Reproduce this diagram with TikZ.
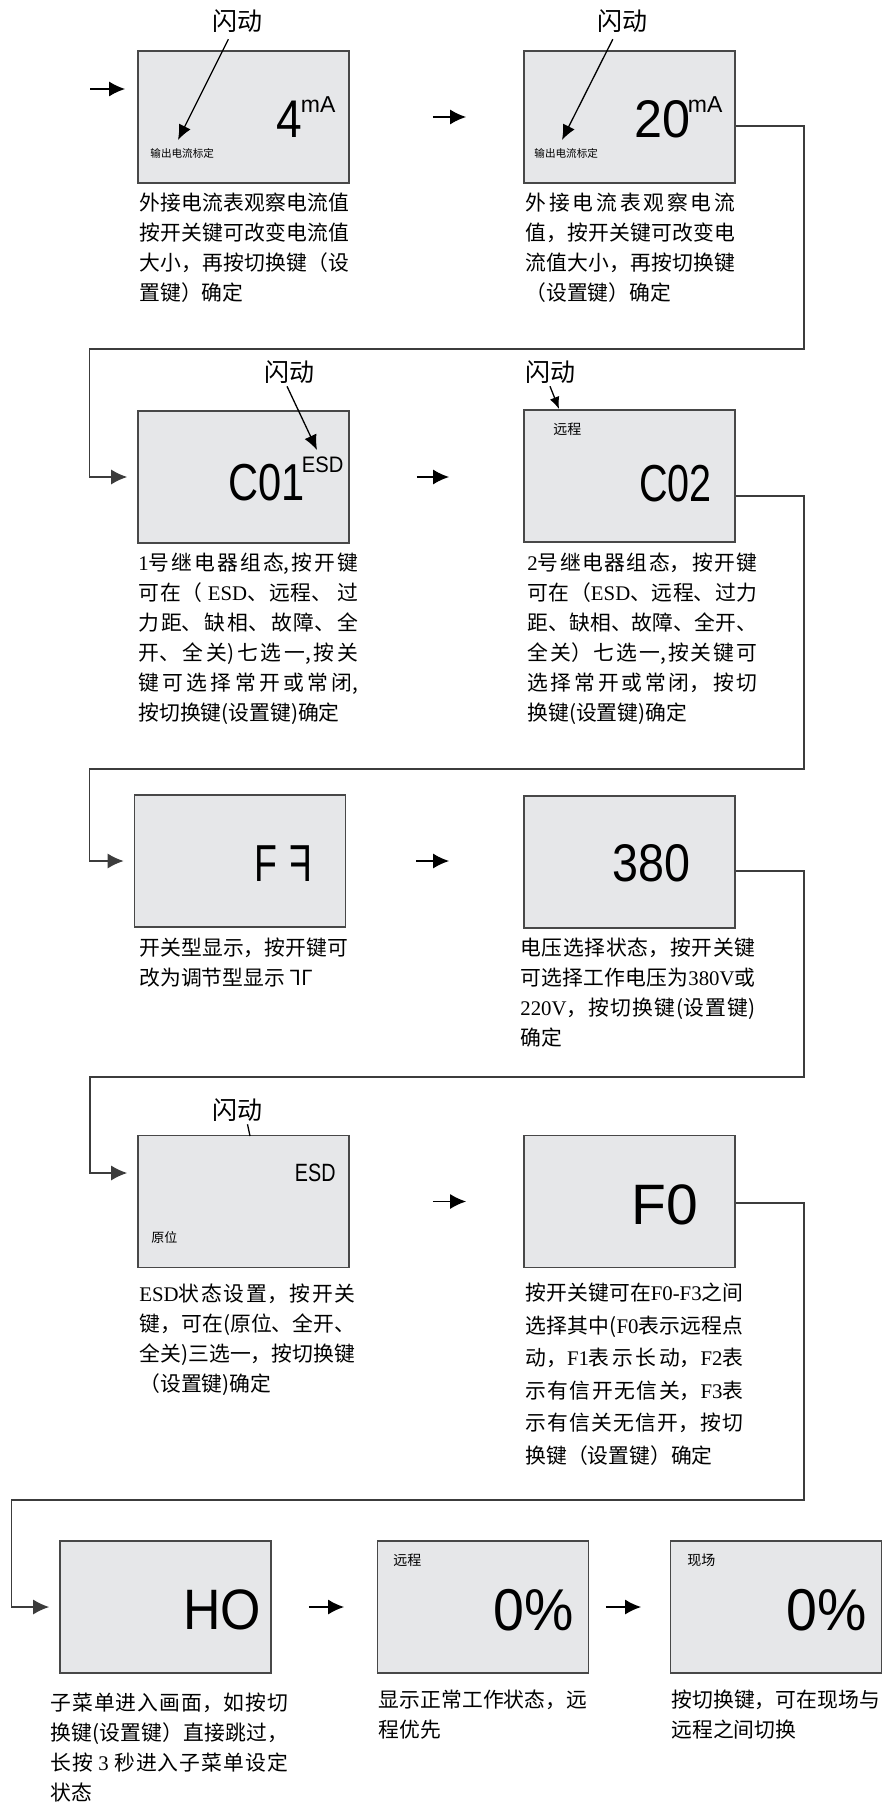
\documentclass[tikz,border=0pt]{standalone}
\usepackage{graphicx}
\usepackage{fontspec}
\setmainfont{Noto Sans CJK SC}
\newfontfamily\lcdfont{Liberation Sans}
\newfontfamily\enfont{Liberation Serif}
\usetikzlibrary{arrows.meta,calc,positioning}
\XeTeXlinebreaklocale "zh"
\XeTeXlinebreakskip=0pt plus 2pt
\definecolor{screengray}{RGB}{230,231,233}
\definecolor{framegray}{RGB}{72,72,72}
\definecolor{wiregray}{RGB}{60,60,60}
\newcommand{\en}[1]{{\enfont #1}}
\newcommand{\lcd}[3]{{\lcdfont\fontsize{#1}{#1}\selectfont\scalebox{#2}[1]{#3}}}

\begin{document}
\begin{tikzpicture}[
  x=0.5pt,y=-0.5pt,
  screen/.style={draw=framegray,line width=0.85pt,fill=screengray,minimum width=105.5pt,minimum height=66pt,inner sep=0pt},
  desc/.style={anchor=north west,inner sep=0pt,align=justify,font=\fontsize{10.4}{15}\selectfont},
  flash/.style={font=\fontsize{12.5}{12.5}\selectfont,inner sep=1pt},
  tag/.style={anchor=west,inner sep=0pt},
  digits/.style={anchor=base west,inner sep=0pt},
  flow/.style={-{Latex[length=8pt,width=7.5pt]},line width=0.85pt},
  link/.style={-{Latex[length=8pt,width=7.5pt]},line width=0.65pt,draw=wiregray,shorten >=5pt},
  blink/.style={-{Latex[length=7.5pt,width=6.5pt]},line width=0.65pt}
]
  \useasboundingbox (0,0) rectangle (882,1802);

  % display screens
  \node[screen] (b1) at (243.5,117) {};
  \node[screen] (b2) at (629.5,117) {};
  \node[screen] (b3) at (243.5,477) {};
  \node[screen] (b4) at (629.5,476) {};
  \node[screen] (b5) at (240,861) {};
  \node[screen] (b6) at (629.5,862) {};
  \node[screen] (b7) at (243.5,1201.5) {};
  \node[screen] (b8) at (629.5,1201.5) {};
  \node[screen] (b9) at (165.5,1607) {};
  \node[screen] (b10) at (483,1607) {};
  \node[screen] (b11) at (776,1607) {};

  % screen contents
  \node[digits] (v1) at (276,138) {\lcd{26.5}{0.87}{4}};
  \node[digits] (u1) at (300.5,113) {\lcd{11.5}{1}{mA}};
  \node[tag,font=\fontsize{5.3}{6}\selectfont] (s1) at (150,153) {输出电流标定};
  \node[digits] (v2) at (634.5,138) {\lcd{26.5}{0.95}{20}};
  \node[digits] (u2) at (687.5,113) {\lcd{11.5}{1}{mA}};
  \node[tag,font=\fontsize{5.3}{6}\selectfont] (s2) at (534,153) {输出电流标定};
  \node[digits] (v3) at (228,500) {\lcd{26}{0.8}{C01}};
  \node[digits] (u3) at (301.5,473) {\lcd{11.2}{0.9}{ESD}};
  \node[tag,font=\fontsize{7}{8}\selectfont] (s4) at (553,429) {远程};
  \node[digits] (v4) at (639,502) {\lcd{26}{0.76}{C02}};
  \node[digits] (v5) at (254,881) {\lcd{26}{0.72}{F\hspace{8.8pt}\reflectbox{F}}};
  \node[digits] (v6) at (612,881) {\lcd{26.5}{0.88}{380}};
  \node[digits] (v7) at (294.5,1181) {\lcd{12.5}{0.79}{ESD}};
  \node[tag,font=\fontsize{6.5}{7}\selectfont] (s7) at (151,1237) {原位};
  \node[digits] (v8) at (631.5,1224) {\lcd{28.5}{1}{F0}};
  \node[digits] (v9) at (183,1629) {\lcd{28.5}{0.91}{HO}};
  \node[tag,font=\fontsize{7}{8}\selectfont] (s10) at (393,1560) {远程};
  \node[digits] (v10) at (493,1630) {\lcd{29.5}{0.94}{0\%}};
  \node[tag,font=\fontsize{7}{8}\selectfont] (s11) at (687,1560) {现场};
  \node[digits] (v11) at (786,1630) {\lcd{29.5}{0.94}{0\%}};

  % blinking marks
  \node[flash] (f1) at (237.5,21) {闪动};
  \node[flash] (f2) at (622,21) {闪动};
  \node[flash] (f3) at (289,372.5) {闪动};
  \node[flash] (f4) at (550,372.5) {闪动};
  \node[flash] (f7) at (237.5,1110.5) {闪动};
  \coordinate (p1) at (178,140);
  \coordinate (p2) at (562,140);
  \coordinate (p3) at (317,450);
  \coordinate (p4) at (559,409);
  \coordinate (p7) at (250,1136);
  \draw[blink,shorten <=2.5pt] (f1) -- (p1);
  \draw[blink,shorten <=2.5pt] (f2) -- (p2);
  \draw[blink] ([xshift=-1pt]f3.south) -- (p3);
  \draw[blink,-{Latex[length=6pt,width=5pt]}] (f4.south) -- (p4);
  \draw[line width=0.65pt] ([xshift=5pt]f7.south) -- (p7);

  % descriptions
  \node[desc,text width=105pt] (d1) at (139,193) {外接电流表观察电流值\linebreak 按开关键可改变电流值\linebreak 大小，再按切换键（设\linebreak 置键）确定};
  \node[desc,text width=105pt] (d2) at (525,193) {外接电流表观察电流\linebreak 值，按开关键可改变电\linebreak 流值大小，再按切换键\linebreak （设置键）确定};
  \node[desc,text width=110pt] (d3) at (138,553) {\en{1}号继电器组态,按开键\linebreak 可在（ \en{ESD}、远程、 过\linebreak 力距、缺相、故障、全\linebreak 开、全关)七选一,按关\linebreak 键可选择常开或常闭,\linebreak 按切换键(设置键)确定};
  \node[desc,text width=115pt] (d4) at (527,553) {\en{2}号继电器组态，按开键\linebreak 可在（\en{ESD}、远程、过力\linebreak 距、缺相、故障、全开、\linebreak 全关）七选一,按关键可\linebreak 选择常开或常闭，按切\linebreak 换键(设置键)确定};
  \node[desc,text width=104.5pt] (d5) at (139,938) {开关型显示，按开键可\linebreak 改为调节型显示 \reflectbox{Γ}Γ};
  \node[desc,text width=117.5pt] (d6) at (520,937.5) {电压选择状态，按开关键\linebreak 可选择工作电压为\en{380V}或\linebreak \en{220V}，按切换键(设置键)\linebreak 确定};
  \node[desc,text width=108pt] (d7) at (139,1283.5) {\en{ESD}状态设置，按开关\linebreak 键，可在(原位、全开、\linebreak 全关)三选一，按切换键\linebreak （设置键)确定};
  \node[desc,text width=109pt,font=\fontsize{10.4}{16.3}\selectfont] (d8) at (525,1282.5) {按开关键可在\en{F0-F3}之间\linebreak 选择其中(\en{F0}表示远程点\linebreak 动，\en{F1}表示长动，\en{F2}表\linebreak 示有信开无信关，\en{F3}表\linebreak 示有信关无信开，按切\linebreak 换键（设置键）确定};
  \node[desc,text width=119pt] (d9) at (50,1692.5) {子菜单进入画面，如按切\linebreak 换键(设置键）直接跳过，\linebreak 长按 \en{3} 秒进入子菜单设定\linebreak 状态};
  \node[desc,text width=104.5pt] (d10) at (378,1690) {显示正常工作状态，远\linebreak 程优先};
  \node[desc,text width=104.5pt] (d11) at (671,1690) {按切换键，可在现场与\linebreak 远程之间切换};

  % step arrows
  \coordinate (start) at (90,89);
  \draw[flow,shorten >=6pt] (start) -- (start -| b1.west);
  \draw[flow,shorten <=41.5pt,shorten >=28.5pt] (b1) -- (b2);
  \draw[flow,shorten <=33.5pt,shorten >=37pt] (b3.east) -- (b3.east -| b4.west);
  \draw[flow,shorten <=35pt,shorten >=37pt] (b5.east) -- (b5.east -| b6.west);
  \draw[flow,shorten <=41.5pt,shorten >=28.5pt] (b7) -- (b8);
  \draw[flow,shorten <=18.5pt,shorten >=16.25pt] (b9) -- (b10);
  \draw[flow,shorten <=8.25pt,shorten >=14.25pt] (b10) -- (b11);

  % row returns
  \coordinate (t1) at (804,349);
  \coordinate (t2) at (804,769);
  \coordinate (t3) at (804,1077);
  \coordinate (t4) at (804,1500);
  \coordinate (l3) at (90,1173);
  \draw[link] ([yshift=-4.5pt]b2.east) -| (t1) -| ([xshift=-24pt]b3.west) -- (b3.west);
  \draw[link] ([yshift=-10pt]b4.east) -| (t2) -| ([xshift=-22.25pt]b5.west) -- (b5.west);
  \draw[link] ([yshift=-4.5pt]b6.east) -| (t3) -| (l3) -- (l3 -| b7.west);
  \draw[link] ([yshift=-0.75pt]b8.east) -| (t4) -| ([xshift=-24pt]b9.west) -- (b9.west);
\end{tikzpicture}
\end{document}
